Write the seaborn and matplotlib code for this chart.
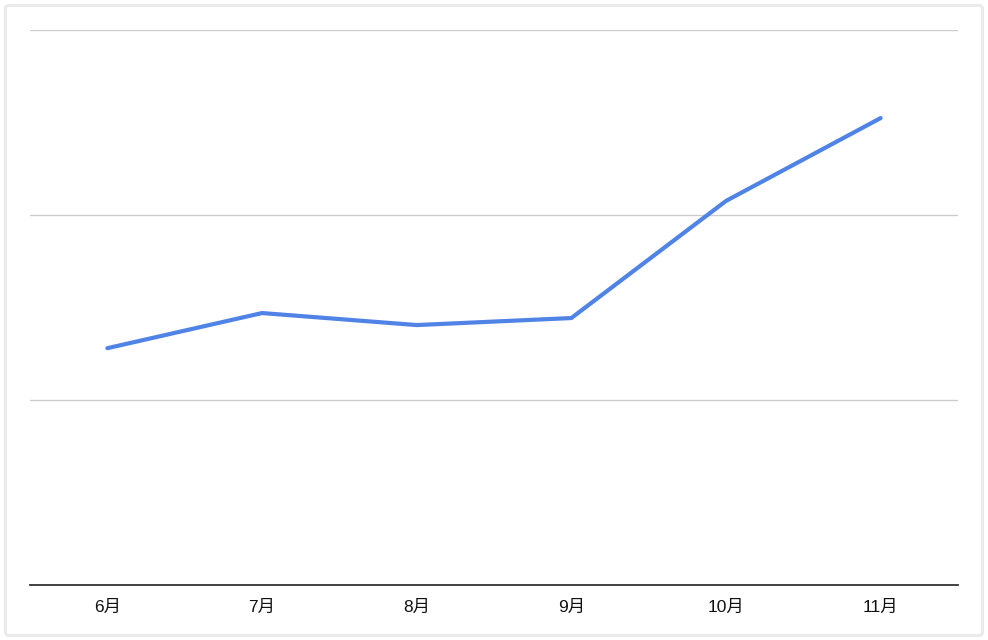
import matplotlib
matplotlib.use("Agg")
import matplotlib.pyplot as plt
import seaborn as sns
import pandas as pd
from matplotlib.patches import FancyBboxPatch

months = ["6月", "7月", "8月", "9月", "10月", "11月"]
values = [1.28, 1.47, 1.405, 1.443, 2.076, 2.524]

sns.set_theme(style="white")
plt.rcParams['font.family'] = ['Liberation Sans', 'Noto Sans CJK JP', 'DejaVu Sans']

W, H = 988, 640
fig = plt.figure(figsize=(W/100, H/100), dpi=100)
fig.patch.set_facecolor("white")
ax = fig.add_axes([30/W, 1-585/H, 928/W, 555/H])

df = pd.DataFrame({"month": months, "value": values})
df["x"] = range(len(months))
sns.lineplot(data=df, x="x", y="value", ax=ax, color="#5083e6", linewidth=3.0, sort=False)

ax.set_xlim(-0.5, len(months)-0.5)
ax.set_ylim(0, 3)
ax.set_yticks([1, 2, 3])
ax.yaxis.grid(True, color="#cccccc", linewidth=1.0)
ax.set_axisbelow(True)
ax.tick_params(axis="y", left=False, labelleft=False)
ax.set_xticks(range(len(months)))
ax.set_xticklabels(months, fontsize=12.5, color="#111111")
ax.tick_params(axis="x", bottom=False, pad=5)
ax.set_xlabel("")
ax.set_ylabel("")
for s in ["top", "right", "left"]:
    ax.spines[s].set_visible(False)
ax.spines["bottom"].set_color("#333333")
ax.spines["bottom"].set_linewidth(1.3)

border = FancyBboxPatch((5.5/W, 4.5/H), (W-11)/W, (H-10)/H,
                        boxstyle="round,pad=0,rounding_size=0.004",
                        transform=fig.transFigure, facecolor="none",
                        edgecolor="#ebebeb", linewidth=2.2, zorder=10)
fig.patches.append(border)

fig.savefig("out.png", dpi=100, facecolor="white")
